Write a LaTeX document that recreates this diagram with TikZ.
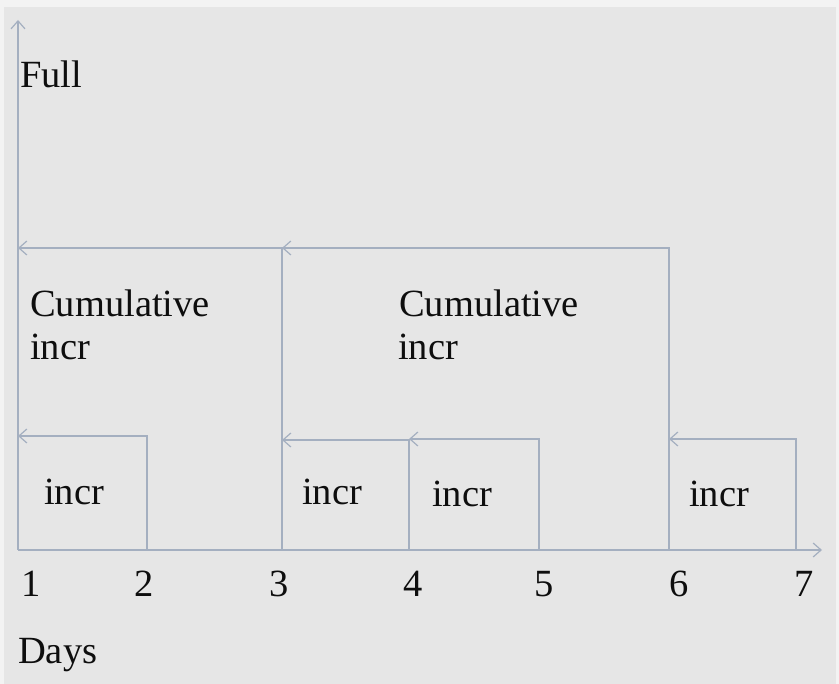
\documentclass[tikz,border=0pt]{standalone}
\usepackage{fontspec}
\setmainfont{Liberation Serif}
\usetikzlibrary{arrows.meta}
\definecolor{bgcol}{HTML}{E6E6E6}
\definecolor{edgecol}{HTML}{F3F3F3}
\definecolor{linecol}{HTML}{A4AFC0}
\definecolor{txtcol}{HTML}{0E0E0E}
\tikzset{
  ln/.style={draw=linecol, line width=1.4pt},
  arr/.style={ln, -{Straight Barb[length=8pt,width=14pt,line width=1.2pt]}},
  lbl/.style={anchor=base west, inner sep=0pt, text=txtcol, font=\fontsize{38.5}{44}\selectfont},
  num/.style={anchor=base, inner sep=0pt, text=txtcol, font=\fontsize{38.5}{44}\selectfont},
}
\begin{document}
\begin{tikzpicture}[x=1pt,y=-1pt]
\useasboundingbox (0,0) rectangle (839,684);
\fill[edgecol] (0,0) rectangle (839,684);
\fill[bgcol] (4,7) rectangle (836,684);
% day positions on the axis
\coordinate (o) at (18,550);
\coordinate (d1) at (18,550);
\coordinate (d2) at (147,550);
\coordinate (d3) at (282,550);
\coordinate (d4) at (409,550);
\coordinate (d5) at (539,550);
\coordinate (d6) at (669,550);
\coordinate (d7) at (796,550);
\coordinate (ytip) at (18,20);
\coordinate (xtip) at (822,550);
% axes
\draw[arr] (o) -- (ytip);
\draw[arr] (o) -- (xtip);
% cumulative arrows
\coordinate (c1) at (18,248);
\coordinate (c2) at (282,248);
\draw[arr] (d3) -- (d3 |- c1) -- (c1);
\draw[arr] (d6) -- (d6 |- c2) -- (c2);
% incremental arrows
\coordinate (i1) at (18,436);
\coordinate (i2) at (282,440);
\coordinate (i3) at (409,439);
\coordinate (i4) at (669,439);
\draw[arr] (d2) -- (d2 |- i1) -- (i1);
\draw[arr] (d4) -- (d4 |- i2) -- (i2);
\draw[arr] (d5) -- (d5 |- i3) -- (i3);
\draw[arr] (d7) -- (d7 |- i4) -- (i4);
% labels
\node[lbl] (full) at (20,88) {Full};
\node[lbl] (cum1a) at (30,317) {Cumulative};
\node[lbl] (cum1b) at (30,360) {incr};
\node[lbl] (cum2a) at (399,317) {Cumulative};
\node[lbl] (cum2b) at (398,360) {incr};
\node[lbl] (inc1) at (44,505) {incr};
\node[lbl] (inc2) at (302,505) {incr};
\node[lbl] (inc3) at (432,507) {incr};
\node[lbl] (inc4) at (689,507) {incr};
\node[num] (n1) at (31,597) {1};
\node[num] (n2) at (144,597) {2};
\node[num] (n3) at (279,597) {3};
\node[num] (n4) at (413,597) {4};
\node[num] (n5) at (544,597) {5};
\node[num] (n6) at (679,597) {6};
\node[num] (n7) at (804,597) {7};
\node[lbl] (days) at (18,663) {Days};
\end{tikzpicture}
\end{document}
